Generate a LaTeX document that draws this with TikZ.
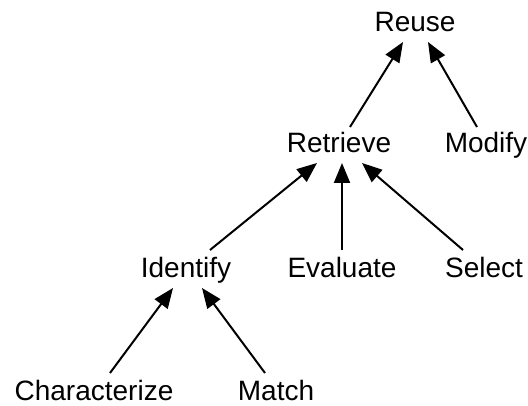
\documentclass[tikz,border=0pt]{standalone}
\usepackage{fontspec}
\setmainfont{Liberation Sans}
\usetikzlibrary{arrows.meta}
\begin{document}
\begin{tikzpicture}[x=1pt,y=-1pt,
  term/.style={anchor=base, inner sep=0pt, outer sep=0pt,
    text height=20pt, text depth=6pt, font=\fontsize{28}{32}\selectfont},
  arr/.style={line width=2pt, -{Triangle[length=20pt,width=16pt]}}]
\useasboundingbox (0,0) rectangle (528,406);
% tree levels, placed by baseline
\node[term] (reuse)    at (415,32)  {Reuse};
\node[term] (retrieve) at (339,153) {Retrieve};
\node[term] (modify)   at (486,153) {Modify};
\node[term] (identify) at (186,278) {Identify};
\node[term] (evaluate) at (342,278) {Evaluate};
\node[term] (select)   at (484,278) {Select};
\node[term] (charac)   at (94,400)  {Characterize};
\node[term] (match)    at (276,400) {Match};
% child -> parent arrows
\draw[arr] ([xshift=11pt,yshift=6pt]retrieve.north) -- ([xshift=-12pt,yshift=-4pt]reuse.south);
\draw[arr] ([xshift=-9pt,yshift=6pt]modify.north) -- ([xshift=13pt,yshift=-4pt]reuse.south);
\draw[arr] ([xshift=24pt,yshift=8pt]identify.north) -- ([xshift=-22pt,yshift=-4pt]retrieve.south);
\draw[arr] ([xshift=0pt,yshift=8pt]evaluate.north) -- ([xshift=3pt,yshift=-4pt]retrieve.south);
\draw[arr] ([xshift=-21pt,yshift=8pt]select.north) -- ([xshift=23pt,yshift=-4pt]retrieve.south);
\draw[arr] ([xshift=16pt,yshift=7pt]charac.north) -- ([xshift=-13pt,yshift=-4pt]identify.south);
\draw[arr] ([xshift=-11pt,yshift=7pt]match.north) -- ([xshift=16pt,yshift=-4pt]identify.south);
\end{tikzpicture}
\end{document}
